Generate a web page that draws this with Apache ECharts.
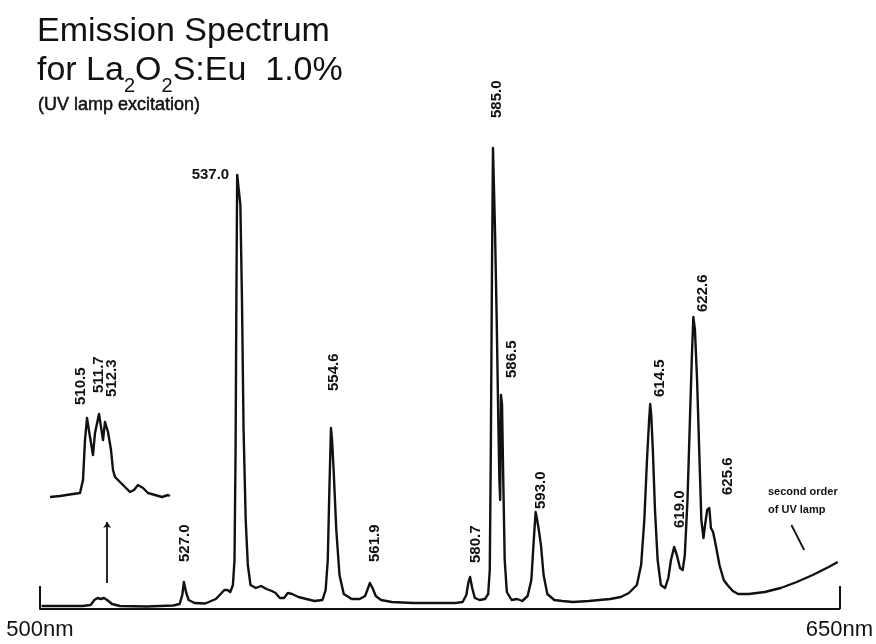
<!DOCTYPE html>
<html>
<head>
<meta charset="utf-8">
<title>Emission Spectrum for La2O2S:Eu 1.0%</title>
<script src="https://cdn.jsdelivr.net/npm/echarts@6.0.0/dist/echarts.min.js"></script>
<style>
  html, body { margin: 0; padding: 0; background: #ffffff; }
  #chart { width: 876px; height: 644px; }
</style>
</head>
<body>
<div id="chart"></div>
<script>
// Emission trace: wavelength (nm) and relative intensity
var spectrumNm = [
  500.3, 505, 508, 509.5, 510.2, 510.8, 511.4, 512.0, 512.6, 513.5,
  515, 520, 525, 526.2, 526.7, 527.0, 527.4, 527.9, 529, 531,
  533, 534.6, 535.2, 535.7, 536.2, 536.5, 536.7, 536.85, 537.0, 537.3,
  537.6, 537.9, 538.2, 538.6, 539.0, 539.5, 540.5, 541.5, 542.5, 543.5,
  544.2, 545.0, 545.8, 546.5, 547.3, 548.5, 550, 551.5, 553, 553.6,
  554.0, 554.3, 554.6, 554.8, 555.1, 555.6, 556.2, 557, 558.5, 560,
  561.0, 561.5, 561.9, 562.4, 563.0, 564, 566, 570, 575, 578,
  579.3, 580.0, 580.4, 580.7, 581.1, 581.6, 582.5, 583.5, 584.1, 584.4,
  584.6, 584.8, 585.0, 585.2, 585.4, 585.7, 586.0, 586.2, 586.35, 586.5,
  586.7, 586.9, 587.2, 587.6, 588.5, 589.5, 590.5, 591.5, 592.2, 592.6,
  593.0, 593.3, 593.6, 594.0, 594.5, 595.2, 596.5, 598, 600, 603,
  605, 607, 609, 610.5, 612, 612.8, 613.4, 613.9, 614.3, 614.5,
  614.7, 615.0, 615.4, 615.9, 616.5, 617.3, 617.9, 618.4, 619.0, 619.5,
  620.1, 620.6, 621.0, 621.5, 621.9, 622.3, 622.6, 622.9, 623.3, 623.7,
  624.1, 624.5, 624.8, 625.2, 625.6, 625.9, 626.3, 626.8, 627.5, 628.3,
  629, 630, 631, 633, 636, 639, 642, 645, 648, 649.7
];
var spectrumI = [
  0.6, 0.6, 0.6, 0.8, 1.8, 2.2, 2.0, 2.2, 1.8, 1.0,
  0.6, 0.5, 0.7, 1.0, 2.8, 5.4, 3.4, 1.8, 1.2, 1.1,
  2.0, 3.8, 3.8, 3.4, 4.8, 9.8, 31.8, 61.8, 86.8, 83.8,
  80.8, 61.8, 35.8, 17.8, 8.8, 4.8, 4.2, 4.6, 4.0, 3.6,
  3.2, 2.2, 2.2, 3.2, 3.0, 2.4, 2.0, 1.6, 1.8, 3.8,
  9.8, 23.8, 36.2, 33.8, 27.8, 15.8, 6.8, 3.0, 2.0, 2.0,
  2.6, 4.0, 5.2, 4.2, 2.6, 1.8, 1.4, 1.2, 1.2, 1.2,
  1.4, 2.8, 5.4, 6.4, 4.2, 2.2, 1.8, 2.0, 3.0, 7.8,
  31.8, 65.8, 92.2, 83.8, 74.8, 57.8, 37.8, 25.8, 21.8, 42.8,
  40.8, 27.8, 9.8, 3.4, 1.8, 2.0, 1.6, 2.6, 5.8, 12.8,
  19.4, 17.8, 15.8, 12.8, 6.8, 3.0, 1.8, 1.6, 1.4, 1.6,
  1.8, 2.0, 2.4, 3.2, 4.8, 8.8, 17.8, 29.8, 37.8, 41.0,
  38.8, 31.8, 19.8, 9.8, 4.8, 4.2, 6.2, 9.8, 12.4, 10.8,
  8.2, 7.8, 10.8, 21.8, 35.8, 49.8, 58.4, 55.8, 45.8, 31.8,
  17.8, 14.2, 16.8, 19.8, 20.2, 16.2, 15.4, 12.8, 8.8, 5.8,
  4.8, 3.6, 3.0, 3.0, 3.4, 4.2, 5.4, 6.8, 8.4, 9.4
];

// Expanded view of the 510-513 nm group
var insetNm = [
  506.8, 507.8, 509.1, 509.8, 510.1, 510.3, 510.5, 510.8, 511.1, 511.3,
  511.7, 511.9, 512.1, 512.3, 512.6, 512.9, 513.1, 513.3, 513.8, 514.3,
  514.8, 515.2, 515.6, 516.1, 516.6, 517.3, 518.0, 518.6, 518.8
];
var insetI = [
  0.6, 0.8, 1.2, 1.4, 4.0, 12.0, 16.4, 12.6, 9.0, 13.4,
  17.2, 14.6, 12.0, 15.6, 13.6, 10.0, 6.0, 4.6, 3.6, 2.6,
  1.6, 2.0, 3.0, 2.4, 1.4, 1.0, 0.6, 1.0, 0.8
];

// Labelled lines (nm)
var mainPeaks = [527.0, 537.0, 554.6, 561.9, 580.7, 585.0, 586.5, 593.0, 614.5, 619.0, 622.6, 625.6];
var insetPeaks = [510.5, 511.7, 512.3];

// Axis end labels (nm)
var axisRange = [500, 650];

// Arrow pointing at the expanded group, and the pointer to the lamp's second order
var arrowNm = 512.6;
var arrowSpan = [5.2, 17.4];
var lampPointer = [[641.0, 16.8], [643.4, 11.8]];

// Title pieces: [text, isSubscript]
var titleLine1 = 'Emission Spectrum';
var titleLine2 = [['for La', false], ['2', true], ['O', false], ['2', true], ['S:Eu  1.0%', false]];
var titleLine3 = '(UV lamp excitation)';
var lampNote = ['second order', 'of UV lamp'];

// Label placement in pixels: [shift right, rise above the peak]
var mainLabelShift = [[1, 20], [-8, 0], [3, 37], [5, 21], [6, 14], [4, 30], [11, 17], [5, 3], [10, 7], [6, 19], [10, 5], [19, 13]];
var mainFlatLabels = [1];
var insetLabelShift = [[-6, 13], [0, 21], [7, 25]];

var INK = '#111111';
var FONT = "'Liberation Sans', Arial, Helvetica, sans-serif";
var LABEL_FONT = 'bold 15px ' + FONT;

function pairs(xs, ys) {
  return xs.map(function (x, i) { return [x, ys[i]]; });
}
function peakPoints(peaks, xs, ys) {
  return peaks.map(function (nm) { return [nm, ys[xs.indexOf(nm)]]; });
}
function labelRenderer(shifts, flat) {
  return function (params, api) {
    var p = api.coord([api.value(0), api.value(1)]);
    var s = shifts[params.dataIndex];
    var isFlat = flat.indexOf(params.dataIndex) >= 0;
    return {
      type: 'text',
      x: p[0] + s[0],
      y: p[1] - s[1],
      rotation: isFlat ? 0 : Math.PI / 2,
      silent: true,
      style: {
        text: api.value(0).toFixed(1),
        fill: INK,
        font: LABEL_FONT,
        align: isFlat ? 'right' : 'left',
        verticalAlign: 'middle'
      }
    };
  };
}

// Heading: laid out piece by piece so the subscripts drop below the baseline
var measureCtx = document.createElement('canvas').getContext('2d');
function textWidth(text, font) {
  measureCtx.font = font;
  return measureCtx.measureText(text).width;
}
var headFont = '34px ' + FONT;
var subFont = '20px ' + FONT;
var heading = [
  { type: 'text', x: 37, y: 15, silent: true,
    style: { text: titleLine1, font: headFont, fill: INK, verticalAlign: 'top' } }
];
var cursorX = 37;
titleLine2.forEach(function (piece) {
  var f = piece[1] ? subFont : headFont;
  heading.push({
    type: 'text', x: cursorX, y: piece[1] ? 54 + 22 : 54, silent: true,
    style: { text: piece[0], font: f, fill: INK, verticalAlign: 'top' }
  });
  cursorX += textWidth(piece[0], f);
});
heading.push({
  type: 'text', x: 38, y: 96, silent: true,
  style: { text: titleLine3, font: '18px ' + FONT, fill: INK, stroke: INK, lineWidth: 0.5, verticalAlign: 'top' }
});
lampNote.forEach(function (line, i) {
  heading.push({
    type: 'text', x: 768, y: 486 + i * 18, silent: true,
    style: { text: line, font: 'bold 11px ' + FONT, fill: INK, verticalAlign: 'top' }
  });
});

var chart = echarts.init(document.getElementById('chart'), null, { renderer: 'canvas' });

chart.setOption({
  backgroundColor: '#ffffff',
  animation: false,
  grid: [
    { left: 40, right: 36, top: 109, height: 500 },
    { left: 50, top: 400, width: 120, height: 100 }
  ],
  xAxis: [
    {
      gridIndex: 0, type: 'value',
      min: axisRange[0], max: axisRange[1], interval: axisRange[1] - axisRange[0],
      axisLine: { lineStyle: { color: INK, width: 2 } },
      axisTick: { show: true, inside: true, length: 23, lineStyle: { color: INK, width: 2 } },
      axisLabel: { formatter: '{value}nm', fontFamily: FONT, fontSize: 22, color: INK, margin: 10 },
      splitLine: { show: false }
    },
    { gridIndex: 1, type: 'value', min: 506.8, max: 518.8, show: false }
  ],
  yAxis: [
    { gridIndex: 0, type: 'value', min: 0, max: 100, show: false },
    { gridIndex: 1, type: 'value', min: 0, max: 20, show: false }
  ],
  graphic: heading,
  series: [
    {
      name: 'emission',
      type: 'line',
      xAxisIndex: 0, yAxisIndex: 0,
      data: pairs(spectrumNm, spectrumI),
      showSymbol: false,
      lineStyle: { color: INK, width: 2.4, join: 'round' },
      silent: true,
      markLine: {
        silent: true,
        animation: false,
        symbol: ['none', 'none'],
        label: { show: false },
        lineStyle: { color: INK, width: 1.8, type: 'solid' },
        data: [
          [
            { coord: [arrowNm, arrowSpan[0]], symbol: 'none' },
            { coord: [arrowNm, arrowSpan[1]], symbol: 'arrow', symbolSize: 6 }
          ],
          [
            { coord: lampPointer[0], symbol: 'none' },
            { coord: lampPointer[1], symbol: 'none' }
          ]
        ]
      }
    },
    {
      name: 'expanded',
      type: 'line',
      xAxisIndex: 1, yAxisIndex: 1,
      data: pairs(insetNm, insetI),
      showSymbol: false,
      lineStyle: { color: INK, width: 2.4, join: 'round' },
      silent: true
    },
    {
      name: 'line labels',
      type: 'custom',
      coordinateSystem: 'cartesian2d',
      xAxisIndex: 0, yAxisIndex: 0,
      clip: false,
      silent: true,
      data: peakPoints(mainPeaks, spectrumNm, spectrumI),
      renderItem: labelRenderer(mainLabelShift, mainFlatLabels),
      z: 5
    },
    {
      name: 'expanded labels',
      type: 'custom',
      coordinateSystem: 'cartesian2d',
      xAxisIndex: 1, yAxisIndex: 1,
      clip: false,
      silent: true,
      data: peakPoints(insetPeaks, insetNm, insetI),
      renderItem: labelRenderer(insetLabelShift, []),
      z: 5
    }
  ]
});
</script>
</body>
</html>
